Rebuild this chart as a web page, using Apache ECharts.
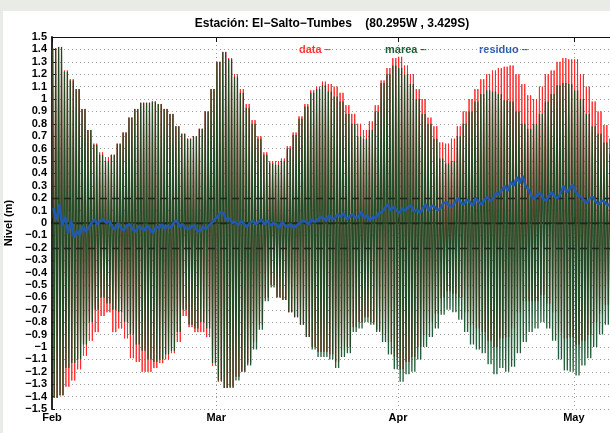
<!DOCTYPE html>
<html><head><meta charset="utf-8">
<script src="https://cdn.jsdelivr.net/npm/echarts@6/dist/echarts.min.js"></script>
<style>
html,body{margin:0;padding:0;width:610px;height:433px;background:#e9ebe6;overflow:hidden;}
#c{position:absolute;left:3px;top:11px;width:607px;height:422px;background:#fff;}
</style></head><body><div id="c"></div>
<script>
// Daily values (day 0 = 1 Feb 2014)
const mareaHigh = [1.41,1.42,1.22,1.15,1.08,0.92,0.75,0.63,0.55,0.50,0.55,0.64,0.73,0.85,0.92,0.97,0.97,0.98,0.96,0.92,
0.88,0.78,0.72,0.68,0.70,0.76,0.90,1.08,1.30,1.38,1.32,1.18,1.05,0.93,0.80,0.68,0.55,0.48,0.47,0.50,
0.60,0.71,0.84,0.94,1.05,1.08,1.11,1.06,1.02,0.98,0.88,0.80,0.70,0.68,0.75,0.90,1.13,1.20,1.27,1.25,
1.20,1.12,1.00,0.88,0.80,0.68,0.52,0.48,0.50,0.70,0.80,0.90,0.98,1.04,1.07,1.06,1.04,0.99,0.98,0.90,
0.80,0.76,0.80,0.88,0.98,1.04,1.11,1.13,1.12,1.07,1.00,0.88,0.78,0.72,0.65,0.56];
const mareaLow = [-1.41,-1.39,-1.17,-1.13,-1.10,-0.98,-0.80,-0.70,-0.60,-0.65,-0.70,-0.72,-0.80,-0.90,-0.98,-1.03,-1.10,-1.12,-1.10,-1.06,
-1.03,-0.88,-0.70,-0.82,-0.85,-0.80,-0.85,-1.13,-1.27,-1.33,-1.33,-1.27,-1.20,-1.15,-1.02,-0.86,-0.63,-0.52,-0.60,-0.62,
-0.72,-0.76,-0.82,-0.92,-1.02,-1.08,-1.08,-1.10,-1.17,-1.08,-1.05,-0.88,-0.85,-0.80,-0.82,-0.88,-0.96,-1.06,-1.18,-1.28,
-1.22,-1.20,-1.10,-1.00,-0.92,-0.85,-0.74,-0.70,-0.72,-0.78,-0.88,-0.98,-1.02,-1.05,-1.14,-1.22,-1.17,-1.20,-1.16,-1.05,
-0.96,-0.88,-0.85,-0.80,-0.85,-0.95,-1.10,-1.19,-1.20,-1.23,-1.15,-1.09,-1.00,-0.90,-0.82,-0.75];
const dataHigh = [1.41,1.42,1.23,1.16,1.08,0.92,0.75,0.64,0.57,0.53,0.55,0.64,0.73,0.85,0.92,0.97,0.97,0.98,0.96,0.92,
0.88,0.78,0.72,0.68,0.70,0.76,0.90,1.08,1.30,1.38,1.33,1.20,1.08,0.96,0.83,0.70,0.57,0.50,0.50,0.52,
0.62,0.73,0.86,0.96,1.07,1.10,1.14,1.12,1.10,1.05,0.95,0.88,0.80,0.75,0.82,0.95,1.15,1.25,1.33,1.34,
1.27,1.20,1.08,1.00,0.85,0.78,0.65,0.64,0.68,0.78,0.90,1.00,1.08,1.16,1.20,1.23,1.25,1.26,1.27,1.20,
1.12,1.03,1.00,1.10,1.20,1.23,1.30,1.33,1.32,1.32,1.20,1.10,0.98,0.90,0.79,0.68];
const dataLow = [-1.41,-1.39,-1.32,-1.27,-1.18,-1.07,-0.95,-0.88,-0.75,-0.72,-0.88,-0.85,-0.93,-1.09,-1.12,-1.20,-1.20,-1.17,-1.13,-1.10,
-1.05,-0.96,-0.75,-0.84,-0.88,-0.88,-0.92,-1.15,-1.28,-1.33,-1.32,-1.24,-1.20,-1.13,-0.96,-0.82,-0.60,-0.50,-0.60,-0.62,
-0.72,-0.76,-0.82,-0.92,-1.00,-1.04,-1.04,-1.06,-1.12,-1.02,-1.00,-0.84,-0.80,-0.76,-0.80,-0.86,-0.90,-0.96,-1.08,-1.18,
-1.12,-1.08,-1.00,-0.90,-0.80,-0.73,-0.60,-0.55,-0.57,-0.60,-0.72,-0.82,-0.85,-0.88,-0.95,-1.00,-0.93,-0.92,-0.85,-0.72,
-0.63,-0.63,-0.63,-0.58,-0.65,-0.72,-0.88,-0.93,-0.92,-0.98,-0.95,-0.90,-0.80,-0.73,-0.66,-0.60];
// Residual, two readings per day
const residuo = [0.12,0.02, 0.15,-0.02, 0.05,-0.08, 0.02,-0.12, -0.06,-0.10, -0.02,-0.07, -0.04,0.00, 0.03,-0.01, 0.02,0.03, 0.00,0.02,
-0.03,-0.05, 0.00,-0.04, -0.06,-0.02, -0.01,-0.05, -0.07,-0.03, -0.04,-0.06, -0.02,-0.05, -0.08,-0.03, -0.04,-0.01, -0.05,-0.02,
-0.04,0.00, 0.02,-0.03, -0.01,-0.04, -0.05,-0.03, -0.02,-0.06, -0.07,-0.03, -0.05,-0.02, 0.00,0.03, 0.05,0.09, 0.08,0.02,
0.04,0.00, 0.01,-0.02, 0.02,-0.01, -0.03,0.00, 0.02,-0.01, 0.01,0.03, -0.01,0.02, -0.02,0.00, -0.01,-0.04, 0.01,-0.02,
-0.03,-0.01, -0.04,-0.02, 0.00,0.02, 0.01,-0.01, 0.03,0.01, 0.02,0.05, 0.04,0.02, 0.06,0.03, 0.04,0.07, 0.05,0.08,
0.03,0.05, 0.07,0.04, 0.05,0.09, 0.04,0.06, 0.02,0.05, 0.04,0.08, 0.09,0.12, 0.15,0.10, 0.13,0.10, 0.08,0.12,
0.10,0.13, 0.14,0.09, 0.11,0.08, 0.12,0.15, 0.10,0.14, 0.13,0.10, 0.12,0.16, 0.17,0.14, 0.13,0.17, 0.20,0.16,
0.15,0.19, 0.17,0.14, 0.20,0.17, 0.15,0.19, 0.21,0.18, 0.20,0.24, 0.23,0.27, 0.30,0.26, 0.33,0.30, 0.37,0.32,
0.38,0.30, 0.27,0.22, 0.19,0.23, 0.24,0.20, 0.18,0.22, 0.25,0.21, 0.20,0.24, 0.30,0.25, 0.27,0.31, 0.26,0.22,
0.21,0.18, 0.16,0.20, 0.21,0.17, 0.15,0.18, 0.17,0.14, 0.16,0.13];
const monthNames = ['Jan','Feb','Mar','Apr','May','Jun'];
const refLevels = [0.2, 0, -0.2];

const DAY = 86400000;
const t0 = new Date(2014, 1, 1).getTime();
function tideSeries(hi, lo) {
  const out = [];
  for (let i = 0; i < hi.length; i++) {
    out.push([t0 + (i + 0.125) * DAY, hi[i]]);
    out.push([t0 + (i + 0.375) * DAY, lo[i]]);
    out.push([t0 + (i + 0.625) * DAY, hi[i]]);
    out.push([t0 + (i + 0.875) * DAY, lo[i]]);
  }
  return out;
}
const resSeries = residuo.map((v, k) => [t0 + (k * 0.5 + 0.25) * DAY, v]);

const FONT = "'Liberation Sans', Arial, Helvetica, sans-serif";
const chart = echarts.init(document.getElementById('c'), null, {renderer: 'canvas'});
const xMin = t0, xMax = t0 + 95.5 * DAY;
function fmtY(v) {
  const r = Math.round(v * 10) / 10;
  if (r === 0) return '0';
  return (r < 0 ? '\u2212' : '') + String(Math.abs(r));
}
chart.setOption({
  animation: false,
  backgroundColor: '#fff',
  grid: {left: 49, top: 26, right: -2, bottom: 24, containLabel: false, outerBoundsMode: 'none'},
  xAxis: [{
    type: 'time', min: xMin, max: xMax, splitNumber: 4, minInterval: 27 * DAY,
    axisLine: {show: true, lineStyle: {color: '#111', width: 1.8}},
    axisTick: {show: true, inside: true, length: 5, lineStyle: {color: '#111'}},
    axisLabel: {color: '#000', fontFamily: FONT, fontWeight: 'bold', fontSize: 11, margin: 3,
      formatter: function (v) { const d = new Date(v); return (d.getDate() === 1 && d.getHours() === 0) ? monthNames[d.getMonth()] : ''; }},
    splitLine: {show: true, lineStyle: {color: '#999', type: [1, 3], width: 1}}
  }, {
    type: 'time', position: 'top', min: xMin, max: xMax, splitNumber: 4, minInterval: 27 * DAY,
    axisLine: {show: true, lineStyle: {color: '#111', width: 1.2}},
    axisTick: {show: true, inside: true, length: 5, lineStyle: {color: '#111'}},
    axisLabel: {show: false}, splitLine: {show: false}
  }],
  yAxis: {
    type: 'value', min: -1.5, max: 1.5, interval: 0.1,
    axisLine: {show: true, lineStyle: {color: '#111', width: 1.8}},
    axisTick: {show: true, inside: true, length: 3, lineStyle: {color: '#111'}},
    axisLabel: {color: '#000', fontFamily: FONT, fontWeight: 'bold', fontSize: 11, margin: 5, interval: 0, formatter: fmtY},
    splitLine: {show: true, lineStyle: {color: '#999', type: [1, 3], width: 1}},
    name: 'Nivel (m)', nameLocation: 'middle', nameGap: 38, nameRotate: 90,
    nameTextStyle: {color: '#000', fontFamily: FONT, fontWeight: 'bold', fontSize: 11}
  },
  graphic: [
    {type: 'text', position: [329, 13], style: {text: 'Estaci\u00f3n: El\u2212Salto\u2212Tumbes    (80.295W , 3.429S)', font: 'bold 12px ' + FONT, fill: '#000', textAlign: 'center', textVerticalAlign: 'middle'}},
    {type: 'text', position: [296, 39], style: {text: 'data \u2013', font: 'bold 11px ' + FONT, fill: '#ff3333', textVerticalAlign: 'middle'}},
    {type: 'text', position: [382, 39], style: {text: 'marea \u2013', font: 'bold 11px ' + FONT, fill: '#1b5e30', textVerticalAlign: 'middle'}},
    {type: 'text', position: [476, 39], style: {text: 'residuo \u2013', font: 'bold 11px ' + FONT, fill: '#2a5cb0', textVerticalAlign: 'middle'}},
    {type: 'text', position: [307, 424], style: {text: '2014', font: 'bold 11px ' + FONT, fill: '#000', textAlign: 'center', textVerticalAlign: 'top'}}
  ],
  series: [
    {name: 'data', type: 'line', data: tideSeries(dataHigh, dataLow), showSymbol: false, symbol: 'none', z: 2,
      lineStyle: {color: '#ff2a2a', width: 1.0}, sampling: null},
    {name: 'marea', type: 'line', data: tideSeries(mareaHigh, mareaLow), showSymbol: false, symbol: 'none', z: 3,
      lineStyle: {color: '#0b4d23', width: 1.3, opacity: 0.9},
      markLine: {silent: true, symbol: 'none', label: {show: false}, animation: false,
        lineStyle: {color: '#222', type: [7, 5], width: 1.3},
        data: refLevels.map(v => ({yAxis: v}))}},
    {name: 'residuo', type: 'line', data: resSeries, showSymbol: false, symbol: 'none', z: 5,
      lineStyle: {color: '#2158b0', width: 2.5}}
  ]
});
</script></body></html>
